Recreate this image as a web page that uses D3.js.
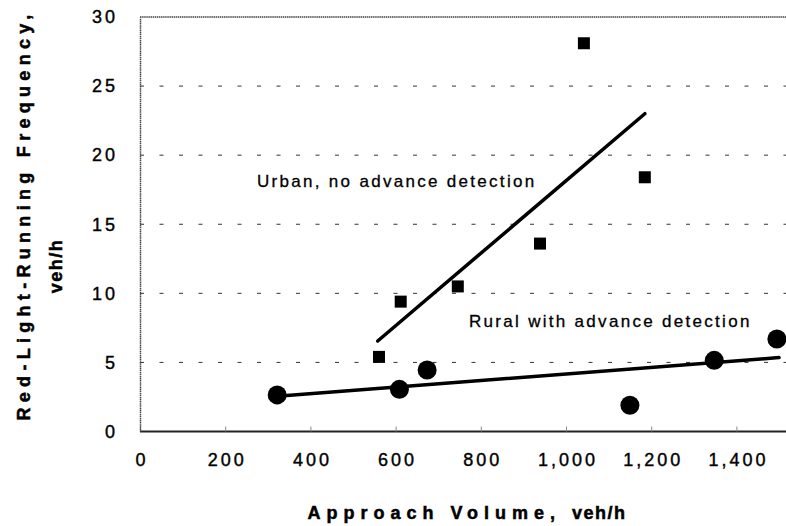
<!DOCTYPE html>
<html>
<head>
<meta charset="utf-8">
<script src="https://cdn.jsdelivr.net/npm/d3@7"></script>
<style>
  html, body { margin: 0; padding: 0; background: #fff; }
  svg { display: block; font-family: "Liberation Sans", Arial, Helvetica, sans-serif; }
</style>
</head>
<body>
<svg id="chart" width="786" height="526"></svg>
<script>
// ---- Data ----
const urbanVolume = [561, 612, 746, 939, 1042, 1185];
const urbanFreq   = [5.4, 9.4, 10.5, 13.6, 28.1, 18.4];
const ruralVolume = [322, 609, 674, 1150, 1348, 1495];
const ruralFreq   = [2.65, 3.05, 4.45, 1.9, 5.15, 6.7];
const urbanTrendX = [558, 1185];
const urbanTrendY = [6.55, 23.0];
const ruralTrendX = [322, 1500];
const ruralTrendY = [2.55, 5.35];
const xTicks = [0, 200, 400, 600, 800, 1000, 1200, 1400];
const yTicks = [0, 5, 10, 15, 20, 25, 30];
const gridValues = [5, 10, 15, 20, 25];
const urbanLabel = "Urban, no advance detection";
const ruralLabel = "Rural with advance detection";
const xTitle = ["Approach Volume, ", "veh/h"];
const yTitle = ["Red-Light-Running Frequency,", "veh/h"];

(function () {
// ---- Layout ----
const svg = d3.select("#chart");
const mLeft = 140, mRight = 779, mTop = 17, mBottom = 431.5, plotRight = 786;
const x = d3.scaleLinear().domain([0, 1500]).range([mLeft, mRight]);
const y = d3.scaleLinear().domain([0, 30]).range([mBottom, mTop]);

// gridlines
svg.append("g").selectAll("line").data(gridValues).join("line")
  .attr("x1", mLeft).attr("x2", plotRight)
  .attr("y1", d => y(d)).attr("y2", d => y(d))
  .attr("stroke", "#333").attr("stroke-width", 1)
  .attr("stroke-dasharray", "4,15.5");

// top border
svg.append("line").attr("x1", mLeft).attr("x2", plotRight)
  .attr("y1", y(30)).attr("y2", y(30))
  .attr("stroke", "#444").attr("stroke-width", 1.5).attr("stroke-dasharray", "1.5,0.6");

// x axis
const xAxis = d3.axisBottom(x).tickValues(xTicks).tickFormat(d3.format(","))
  .tickSizeInner(-5).tickSizeOuter(0).tickPadding(22);
const gx = svg.append("g").attr("transform", `translate(0,${mBottom})`).call(xAxis);
gx.select(".domain").attr("d", `M${mLeft},0H${plotRight}`)
  .attr("stroke", "#222").attr("stroke-width", 2);
gx.selectAll(".tick line").attr("stroke", "#888").attr("stroke-width", 1);
gx.selectAll(".tick text")
  .attr("font-size", 18).attr("fill", "#000")
  .attr("stroke", "#000").attr("stroke-width", 0.4)
  .attr("font-family", "'Liberation Sans', Arial, sans-serif")
  .style("letter-spacing", "3px").attr("dx", 1.5);

// y axis
const yAxis = d3.axisLeft(y).tickValues(yTicks).tickSizeInner(0).tickSizeOuter(0).tickPadding(22);
const gy = svg.append("g").attr("transform", `translate(${mLeft},0)`).call(yAxis);
gy.select(".domain").attr("stroke", "#444").attr("stroke-width", 1.5).attr("stroke-dasharray", "1.5,0.6");
gy.selectAll(".tick text")
  .attr("font-size", 18).attr("fill", "#000")
  .attr("stroke", "#000").attr("stroke-width", 0.4)
  .attr("font-family", "'Liberation Sans', Arial, sans-serif")
  .style("letter-spacing", "3px");

// trend lines
const line = d3.line().x(d => x(d[0])).y(d => y(d[1]));
svg.append("path").datum(d3.zip(urbanTrendX, urbanTrendY)).attr("d", line)
  .attr("fill", "none").attr("stroke", "#000").attr("stroke-width", 3.5).attr("stroke-linecap", "round");
svg.append("path").datum(d3.zip(ruralTrendX, ruralTrendY)).attr("d", line)
  .attr("fill", "none").attr("stroke", "#000").attr("stroke-width", 3.5).attr("stroke-linecap", "round");

// markers
const sq = 12;
svg.append("g").selectAll("rect").data(d3.zip(urbanVolume, urbanFreq)).join("rect")
  .attr("x", d => x(d[0]) - sq / 2).attr("y", d => y(d[1]) - sq / 2)
  .attr("width", sq).attr("height", sq).attr("fill", "#000");
svg.append("g").selectAll("circle").data(d3.zip(ruralVolume, ruralFreq)).join("circle")
  .attr("cx", d => x(d[0])).attr("cy", d => y(d[1])).attr("r", 9.5).attr("fill", "#000");

// series labels
svg.append("text").attr("x", 257).attr("y", 187).attr("font-size", 17)
  .attr("stroke", "#000").attr("stroke-width", 0.3)
  .style("letter-spacing", "2.3px").text(urbanLabel);
svg.append("text").attr("x", 469).attr("y", 327).attr("font-size", 17)
  .attr("stroke", "#000").attr("stroke-width", 0.3)
  .style("letter-spacing", "2.3px").text(ruralLabel);

// x title
const xt = svg.append("text").attr("x", 467).attr("y", 519).attr("text-anchor", "middle")
  .attr("font-size", 18).attr("font-weight", "bold")
  .attr("stroke", "#000").attr("stroke-width", 0.5);
xt.append("tspan").style("letter-spacing", "6px").text(xTitle[0]);
xt.append("tspan").style("letter-spacing", "1.5px").text(xTitle[1]);

// y title
svg.append("text").attr("transform", "translate(30,215) rotate(-90)")
  .attr("text-anchor", "middle").attr("font-size", 18).attr("font-weight", "bold")
  .attr("stroke", "#000").attr("stroke-width", 0.5)
  .style("letter-spacing", "5.3px").text(yTitle[0]);
svg.append("text").attr("transform", "translate(62,266) rotate(-90)")
  .attr("text-anchor", "middle").attr("font-size", 18).attr("font-weight", "bold")
  .attr("stroke", "#000").attr("stroke-width", 0.5)
  .style("letter-spacing", "1.5px").text(yTitle[1]);
})();
</script>
</body>
</html>
